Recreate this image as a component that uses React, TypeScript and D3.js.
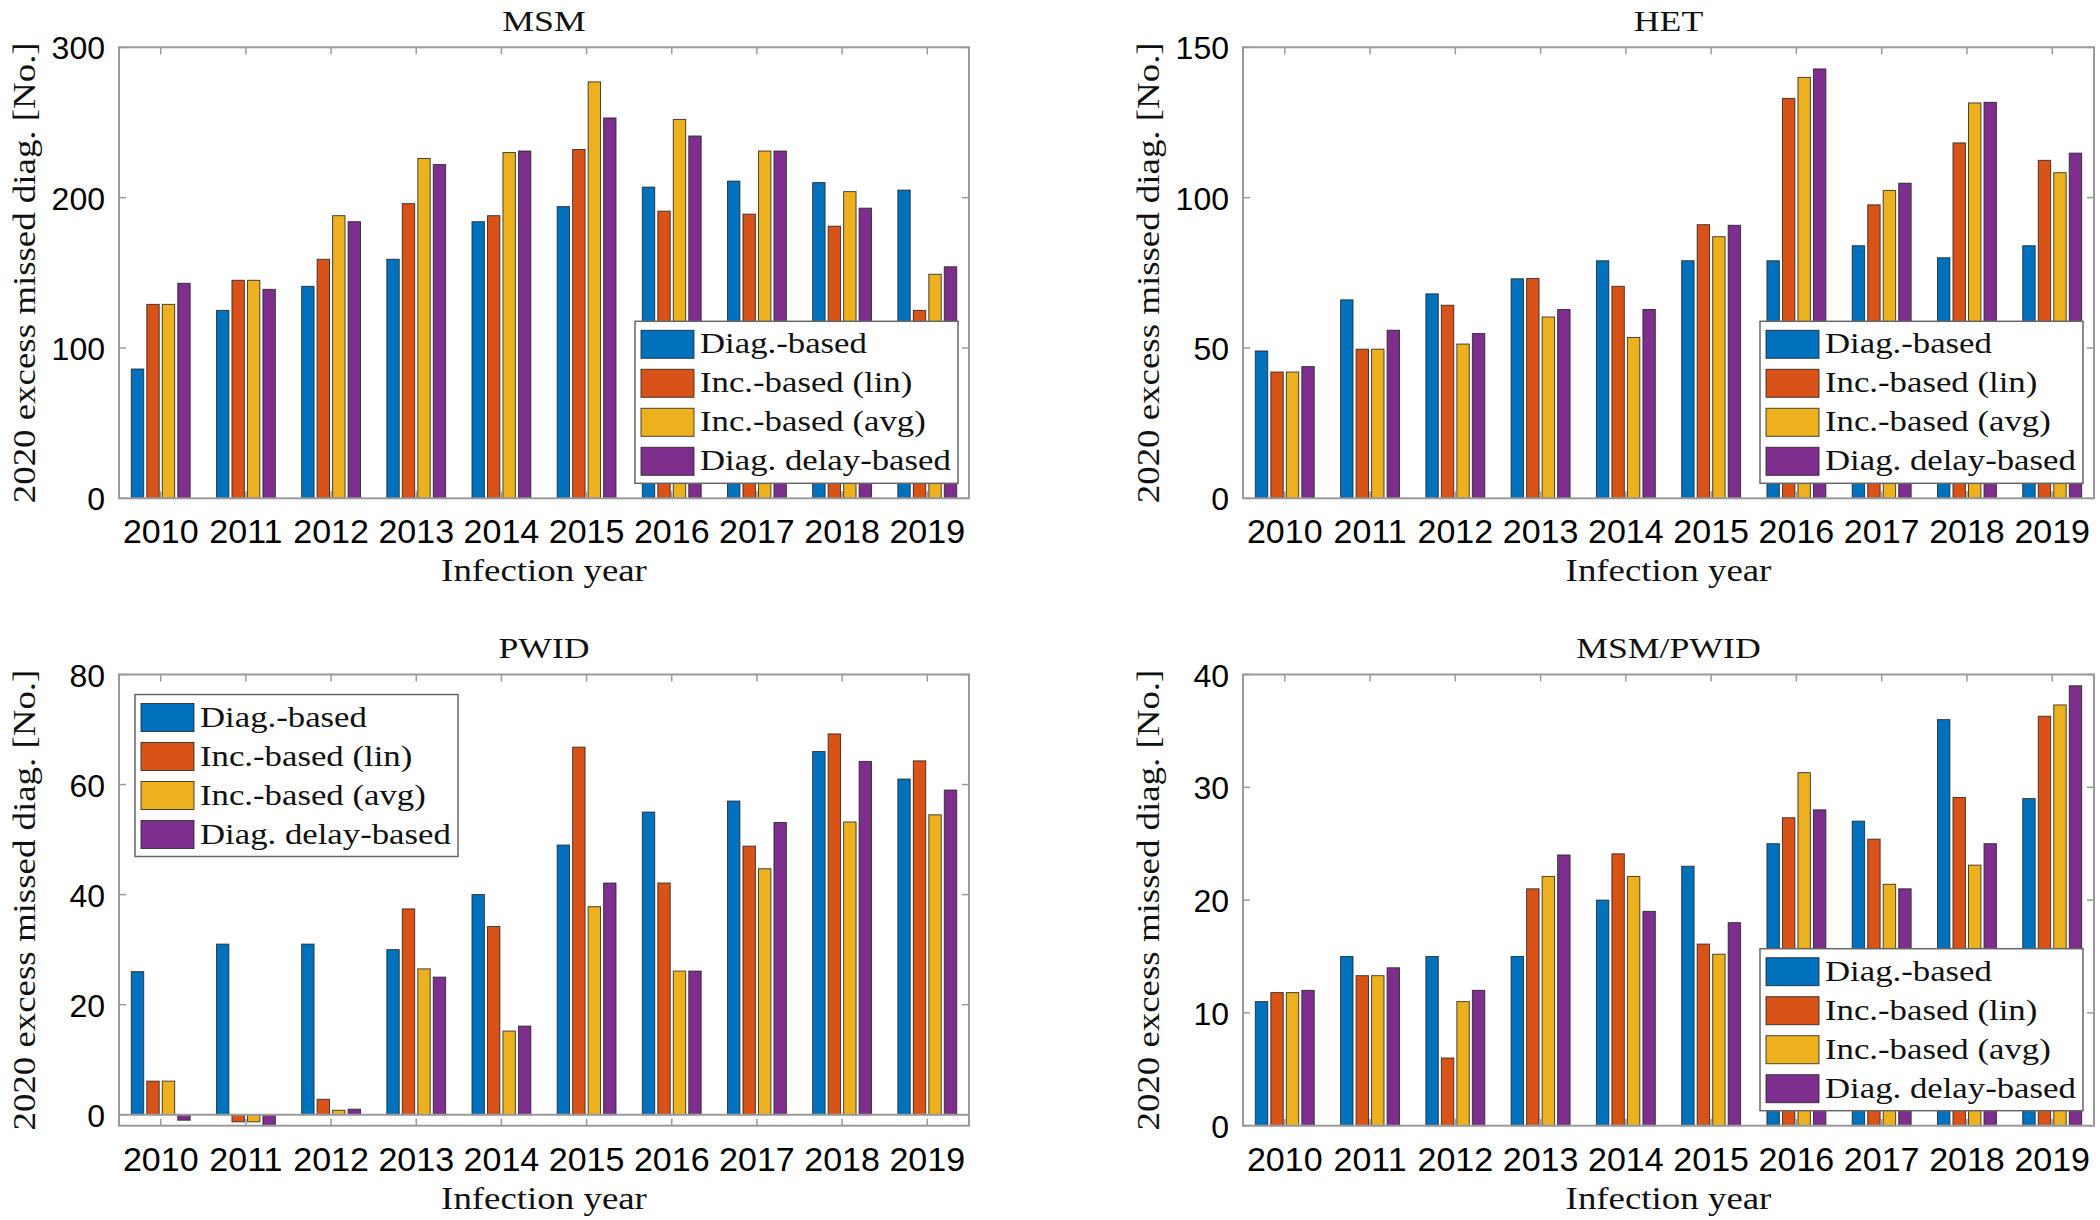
import React from 'react';
import * as d3 from 'd3';

const years = [2010, 2011, 2012, 2013, 2014, 2015, 2016, 2017, 2018, 2019];
const seriesNames = ['Diag.-based', 'Inc.-based (lin)', 'Inc.-based (avg)', 'Diag. delay-based'];
const seriesColors = ['#0072BD', '#D95319', '#EDB120', '#7E2F8E'];

// MSM
const msmDiag = [86, 125, 141, 159, 184, 194, 207, 211, 210, 205];
const msmLin = [129, 145, 159, 196, 188, 232, 191, 189, 181, 125];
const msmAvg = [129, 145, 188, 226, 230, 277, 252, 231, 204, 149];
const msmDelay = [143, 139, 184, 222, 231, 253, 241, 231, 193, 154];

// HET
const hetDiag = [49, 66, 68, 73, 79, 79, 79, 84, 80, 84];
const hetLin = [42, 49.6, 64.2, 73.1, 70.5, 91, 133, 97.6, 118.2, 112.4];
const hetAvg = [42, 49.6, 51.3, 60.3, 53.5, 87, 140, 102.4, 131.5, 108.3];
const hetDelay = [43.8, 55.9, 54.8, 62.8, 62.8, 90.8, 142.8, 104.8, 131.7, 114.8];

// PWID
const pwidDiag = [26, 31, 31, 30, 40, 49, 55, 57, 66, 61];
const pwidLin = [6.1, -1.3, 2.8, 37.4, 34.2, 66.8, 42.1, 48.8, 69.2, 64.3];
const pwidAvg = [6.1, -1.3, 0.8, 26.5, 15.2, 37.8, 26.1, 44.7, 53.2, 54.5];
const pwidDelay = [-1, -2, 1.0, 25, 16.1, 42.1, 26.1, 53.1, 64.2, 59];

// MSM/PWID
const mpDiag = [11, 15, 15, 15, 20, 23, 25, 27, 36, 29];
const mpLin = [11.8, 13.3, 6, 21, 24.1, 16.1, 27.3, 25.4, 29.1, 36.3];
const mpAvg = [11.8, 13.3, 11, 22.1, 22.1, 15.2, 31.3, 21.4, 23.1, 37.3];
const mpDelay = [12, 14, 12, 24, 19, 18, 28, 21, 25, 39];

const msmTicks = [0, 100, 200, 300];
const hetTicks = [0, 50, 100, 150];
const pwidTicks = [0, 20, 40, 60, 80];
const mpTicks = [0, 10, 20, 30, 40];

const yLabel = '2020 excess missed diag. [No.]';
const xLabel = 'Infection year';

const SERIF = "'Liberation Serif', 'Times New Roman', serif";
const SANS = "'Liberation Sans', Arial, Helvetica, sans-serif";
const SX = 1.19;
const AXIS = '#9a9a9a';

type PanelProps = {
  title: string;
  series: number[][];
  yDomain: [number, number];
  yTicks: number[];
  rect: { x0: number; x1: number; y0: number; y1: number };
  legend: 'se' | 'nw';
};

const SerifText: React.FC<{ x: number; y: number; size: number; rotate?: number; anchor?: string; sx?: number; children: React.ReactNode }> = ({ x, y, size, rotate = 0, anchor = 'middle', sx = SX, children }) => (
  <g transform={`translate(${x},${y}) rotate(${rotate}) scale(${sx},1)`}>
    <text textAnchor={anchor} fontFamily={SERIF} fontSize={size} fill="#111">
      {children}
    </text>
  </g>
);

const Panel: React.FC<PanelProps> = ({ title, series, yDomain, yTicks, rect, legend }) => {
  const { x0, x1, y0, y1 } = rect;
  const x = d3.scaleLinear().domain([2009.51, 2019.49]).range([x0, x1]);
  const y = d3.scaleLinear().domain(yDomain).range([y1, y0]);
  const n = series.length;
  const gw = Math.min(0.8, n / (n + 1.5));
  const bw = (gw / n) * 0.8;
  const tickLen = 7;

  const lw = 323;
  const lh = 162;
  const lx = legend === 'se' ? x1 - 11 - lw : x0 + 16;
  const ly = legend === 'se' ? y1 - 15 - lh : y0 + 20;

  return (
    <g>
      <rect x={x0} y={y0} width={x1 - x0} height={y1 - y0} fill="#fff" />
      {series.map((vals, si) =>
        vals.map((v, i) => {
          const c = years[i] - gw / 2 + ((2 * si + 1) * gw) / (2 * n);
          const bx0 = x(c - bw / 2);
          const bx1 = x(c + bw / 2);
          const ya = y(Math.max(0, v));
          const yb = y(Math.min(0, v));
          return (
            <rect
              key={`${si}-${i}`}
              x={bx0}
              y={ya}
              width={bx1 - bx0}
              height={Math.max(0.5, yb - ya)}
              fill={seriesColors[si]}
              stroke="#1e1e1e"
              strokeOpacity={0.8}
              strokeWidth={1}
            />
          );
        })
      )}
      {yDomain[0] < 0 && <line x1={x0} x2={x1} y1={y(0)} y2={y(0)} stroke={AXIS} strokeWidth={2} />}
      <rect x={x0} y={y0} width={x1 - x0} height={y1 - y0} fill="none" stroke={AXIS} strokeWidth={2} />
      {years.map((yr) => (
        <g key={yr}>
          <line x1={x(yr)} x2={x(yr)} y1={y1} y2={y1 - tickLen} stroke={AXIS} strokeWidth={1.5} />
          <line x1={x(yr)} x2={x(yr)} y1={y0} y2={y0 + tickLen} stroke={AXIS} strokeWidth={1.5} />
          <text x={x(yr)} y={y1 + 45} textAnchor="middle" fontFamily={SANS} fontSize={34} fill="#000">
            {yr}
          </text>
        </g>
      ))}
      {yTicks.map((t) => (
        <g key={t}>
          <line x1={x0} x2={x0 + tickLen} y1={y(t)} y2={y(t)} stroke={AXIS} strokeWidth={1.5} />
          <line x1={x1} x2={x1 - tickLen} y1={y(t)} y2={y(t)} stroke={AXIS} strokeWidth={1.5} />
          <text x={x0 - 14} y={y(t) + 12} textAnchor="end" fontFamily={SANS} fontSize={32} fill="#000">
            {t}
          </text>
        </g>
      ))}
      <SerifText x={(x0 + x1) / 2} y={y0 - 16.5} size={30}>{title}</SerifText>
      <SerifText x={(x0 + x1) / 2} y={y1 + 83} size={31}>{xLabel}</SerifText>
      <SerifText x={x0 - 84} y={(y0 + y1) / 2} size={31} rotate={-90}>{yLabel}</SerifText>
      <g>
        <rect x={lx} y={ly} width={lw} height={lh} fill="#fff" stroke="#666" strokeWidth={1.5} />
        {seriesNames.map((name, i) => (
          <g key={name}>
            <rect x={lx + 6} y={ly + 9 + i * 39} width={53} height={28} fill={seriesColors[i]} stroke="#1e1e1e" strokeOpacity={0.8} strokeWidth={1} />
            <SerifText x={lx + 65} y={ly + 9 + i * 39 + 23} size={28.5} sx={1.22} anchor="start">{name}</SerifText>
          </g>
        ))}
      </g>
    </g>
  );
};

export default function App() {
  return (
    <svg width={2100} height={1220} style={{ position: 'absolute', left: 0, top: 0, background: '#fff' }}>
      <rect x={0} y={0} width={2100} height={1220} fill="#fff" />
      <Panel title="MSM" series={[msmDiag, msmLin, msmAvg, msmDelay]} yDomain={[0, 300]} yTicks={msmTicks} rect={{ x0: 119, x1: 969, y0: 47.3, y1: 498.3 }} legend="se" />
      <Panel title="HET" series={[hetDiag, hetLin, hetAvg, hetDelay]} yDomain={[0, 150]} yTicks={hetTicks} rect={{ x0: 1243, x1: 2094, y0: 47.3, y1: 498.3 }} legend="se" />
      <Panel title="PWID" series={[pwidDiag, pwidLin, pwidAvg, pwidDelay]} yDomain={[-2, 80]} yTicks={pwidTicks} rect={{ x0: 119, x1: 969, y0: 674.5, y1: 1125.7 }} legend="nw" />
      <Panel title="MSM/PWID" series={[mpDiag, mpLin, mpAvg, mpDelay]} yDomain={[0, 40]} yTicks={mpTicks} rect={{ x0: 1243, x1: 2094, y0: 674.5, y1: 1125.7 }} legend="se" />
    </svg>
  );
}
